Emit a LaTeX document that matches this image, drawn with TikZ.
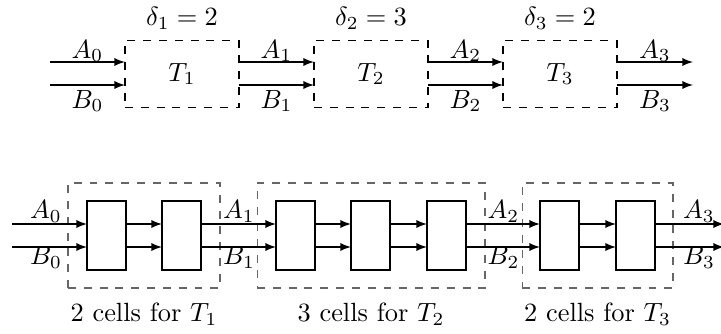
\documentclass[tikz,border=0pt]{standalone}
\usetikzlibrary{arrows}
\begin{document}
\begin{tikzpicture}[x=0.013333cm,y=-0.013333cm,
  arr/.style={->,>=latex,line width=0.4pt},
  tbox/.style={draw,dashed,rectangle,inner sep=0pt,outer sep=0pt,minimum width=1.52cm,minimum height=0.8933cm},
  gbox/.style={draw=black!60,dashed,rectangle,inner sep=0pt,outer sep=0pt,minimum height=1.4cm},
  cell/.style={draw,rectangle,fill=white,inner sep=0pt,outer sep=0pt,minimum width=0.52cm,minimum height=0.92cm},
  lbl/.style={inner sep=0pt}]
\useasboundingbox (0,0) rectangle (721,333);
% ---------- top row ----------
\coordinate (aT) at (0,62);
\coordinate (bT) at (0,85);
\node[tbox] (T1) at (182,74) {$T_1$};
\node[tbox] (T2) at (371,74) {$T_2$};
\node[tbox] (T3) at (560,74) {$T_3$};
\node[lbl] (d1) at (182,18) {$\delta_1 = 2$};
\node[lbl] (d2) at (371,18) {$\delta_2 = 3$};
\node[lbl] (d3) at (560,18) {$\delta_3 = 2$};
\coordinate (inA) at (50,62);
\coordinate (inB) at (50,85);
\coordinate (outA) at (693,62);
\coordinate (outB) at (693,85);
\draw[arr] (inA) -- (T1.west |- aT);
\draw[arr] (inB) -- (T1.west |- bT);
\draw[arr] (T1.east |- aT) -- (T2.west |- aT);
\draw[arr] (T1.east |- bT) -- (T2.west |- bT);
\draw[arr] (T2.east |- aT) -- (T3.west |- aT);
\draw[arr] (T2.east |- bT) -- (T3.west |- bT);
\draw[arr] (T3.east |- aT) -- (outA);
\draw[arr] (T3.east |- bT) -- (outB);
\node[lbl] (ta0) at (87.5,51) {$A_0$};
\node[lbl] (tb0) at (87.5,101) {$B_0$};
\node[lbl] (ta1) at (276.5,51) {$A_1$};
\node[lbl] (tb1) at (276.5,101) {$B_1$};
\node[lbl] (ta2) at (465.5,51) {$A_2$};
\node[lbl] (tb2) at (465.5,101) {$B_2$};
\node[lbl] (ta3) at (655,51) {$A_3$};
\node[lbl] (tb3) at (655,101) {$B_3$};
% ---------- bottom row ----------
\coordinate (aB) at (0,224);
\coordinate (bB) at (0,247);
\node[gbox,minimum width=2.0267cm] (G1) at (144,235.5) {};
\node[gbox,minimum width=3.04cm] (G2) at (371,235.5) {};
\node[gbox,minimum width=2.0133cm] (G3) at (597.5,235.5) {};
\node[cell] (c1) at (106.5,235.5) {};
\node[cell] (c2) at (181.5,235.5) {};
\node[cell] (c3) at (295.5,235.5) {};
\node[cell] (c4) at (370.5,235.5) {};
\node[cell] (c5) at (446.5,235.5) {};
\node[cell] (c6) at (559.5,235.5) {};
\node[cell] (c7) at (635.5,235.5) {};
\coordinate (binA) at (12,224);
\coordinate (binB) at (12,247);
\coordinate (boutA) at (724,224);
\coordinate (boutB) at (724,247);
\draw[arr] (binA) -- (c1.west |- aB);
\draw[arr] (binB) -- (c1.west |- bB);
\foreach \p/\q in {c1/c2,c2/c3,c3/c4,c4/c5,c5/c6,c6/c7}{
  \draw[arr] (\p.east |- aB) -- (\q.west |- aB);
  \draw[arr] (\p.east |- bB) -- (\q.west |- bB);
}
\draw[arr] (c7.east |- aB) -- (boutA);
\draw[arr] (c7.east |- bB) -- (boutB);
\node[lbl] (ba0) at (46,211.5) {$A_0$};
\node[lbl] (bb0) at (46,257.5) {$B_0$};
\node[lbl] (ba1) at (239,211.5) {$A_1$};
\node[lbl] (bb1) at (239,257.5) {$B_1$};
\node[lbl] (ba2) at (503.5,211.5) {$A_2$};
\node[lbl] (bb2) at (503.5,257.5) {$B_2$};
\node[lbl] (ba3) at (699,211.5) {$A_3$};
\node[lbl] (bb3) at (699,257.5) {$B_3$};
\node[lbl] (n1) at (144,314) {2 cells for $T_1$};
\node[lbl] (n2) at (371,314) {3 cells for $T_2$};
\node[lbl] (n3) at (597.5,314) {2 cells for $T_3$};
\end{tikzpicture}
\end{document}
